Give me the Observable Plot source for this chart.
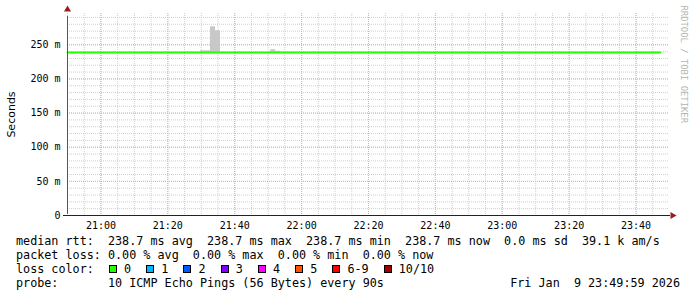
<!DOCTYPE html>
<html>
<head>
<meta charset="utf-8">
<script src="https://cdn.jsdelivr.net/npm/d3@7"></script>
<script src="https://cdn.jsdelivr.net/npm/@observablehq/plot@0.6"></script>
<style>
  html, body { margin: 0; padding: 0; background: #fff; }
  svg { display: block; }
  #legend { font-family: "DejaVu Sans Mono", monospace; font-size: 11.75px; line-height: 14px; margin: 2px 0 0 16px; width: 664px; white-space: pre; color: #000; }
  #legend .row { height: 14px; }
  .box { display: inline-block; width: 6px; height: 6px; border: 1px solid #000; margin: 0 7px 0 1px; vertical-align: -0px; }
  .flex { display: flex; justify-content: space-between; }
</style>
</head>
<body>
<div id="chart"></div>
<div id="legend"></div>
<script>
// ---- data ----
const day = [2026, 0, 9];
const xStart = "20:50:00";
const xEnd = "23:50:00";
const xTickLabels = ["21:00", "21:20", "21:40", "22:00", "22:20", "22:40", "23:00", "23:20", "23:40"];
const yTicks = [0, 50, 100, 150, 200, 250];
const yMax = 295.8;

const medianTimes = ["20:50:00", "23:47:15"];
const medianValues = [238.7, 238.7];

const smokeStart = ["21:29:45", "21:32:45", "21:34:15", "21:50:45", "21:52:15"];
const smokeEnd   = ["21:32:45", "21:34:15", "21:35:45", "21:52:15", "21:53:45"];
const smokeLow   = [238.0, 238.0, 238.0, 238.0, 238.0];
const smokeHigh  = [241.2, 276.3, 270.5, 242.7, 240.5];

const lossLabels = ["0", "1", "2", "3", "4", "5", "6-9", "10/10"];
const lossColors = ["#26ff00", "#00b8ff", "#0059ff", "#7e00ff", "#ff00ff", "#ff5500", "#ff0000", "#a10000"];

const rttStats = ["238.7 ms avg", "238.7 ms max", "238.7 ms min", "238.7 ms now", "0.0 ms sd", "39.1 k am/s"];
const lossStats = ["0.00 % avg", "0.00 % max", "0.00 % min", "0.00 % now"];
const probeText = "10 ICMP Echo Pings (56 Bytes) every 90s";
const dateText = "Fri Jan  9 23:49:59 2026";
const yLabel = "Seconds";
const sideText = "RRDTOOL / TOBI OETIKER";

// ---- helpers ----
const t = s => { const [h, m, sec = 0] = s.split(":").map(Number); return new Date(Date.UTC(day[0], day[1], day[2], h, m, sec)); };
const x0 = t(xStart), x1 = t(xEnd);
const majorX = xTickLabels.map(t);
const minorX = d3.utcMinute.every(5).range(x0, x1);
const minorY = d3.range(10, yMax, 10);

const median = medianTimes.map((s, i) => ({x: t(s), y: medianValues[i]}));
const smoke = smokeStart.map((s, i) => ({x1: t(s), x2: t(smokeEnd[i]), y1: smokeLow[i], y2: smokeHigh[i]}));

const arrowColor = "#9b1c1c";
const minorGrid = {stroke: "#cfcfcf", strokeOpacity: 1, strokeDasharray: "1,1"};
const majorGrid = {stroke: "#eaaaaa", strokeOpacity: 1, strokeDasharray: "1,1"};

const chart = Plot.plot({
  width: 697,
  height: 232,
  marginLeft: 67,
  marginRight: 28,
  marginTop: 13,
  marginBottom: 17,
  x: {type: "utc", domain: [x0, x1]},
  y: {domain: [0, yMax]},
  style: {fontFamily: "DejaVu Sans Mono", fontSize: "10px", background: "#fff", color: "#000", overflow: "visible"},
  marks: [
    Plot.gridY(minorY, minorGrid),
    Plot.gridX(minorX, minorGrid),
    Plot.gridY(yTicks.filter(d => d > 0), majorGrid),
    Plot.gridX(majorX, majorGrid),
    Plot.rect(smoke, {x1: "x1", x2: "x2", y1: "y1", y2: "y2", fill: "#c8c8c8"}),
    Plot.line(median, {x: "x", y: "y", stroke: lossColors[0], strokeWidth: 2}),
    Plot.axisX({ticks: majorX, tickFormat: d3.utcFormat("%H:%M"), tickSize: 0, tickPadding: 6, label: null}),
    Plot.axisY({ticks: yTicks, tickFormat: d => d === 0 ? "0" : d + " m", tickSize: 0, tickPadding: 7,
      label: yLabel, labelAnchor: "center", labelArrow: "none", labelOffset: 60}),
    Plot.ruleX([x0], {y1: 0, y2: yMax, stroke: "#555", insetTop: -1, insetBottom: -3}),
    Plot.ruleY([0], {x1: x0, x2: x1, stroke: "#222", insetLeft: -4, insetRight: -1}),
    Plot.dot([0], {x: () => x0, y: () => yMax, symbol: "triangle", r: 2.6, fill: arrowColor, stroke: "none", dy: -4}),
    Plot.dot([0], {x: () => x1, y: () => 0, symbol: "triangle", r: 2.6, fill: arrowColor, stroke: "none", rotate: 90, dx: 3}),
    Plot.text([sideText], {frameAnchor: "top-right", rotate: 90, textAnchor: "start", dx: 18, dy: -8, fill: "#b4b4b4", fontSize: 8.9, fontFamily: "DejaVu Sans Mono"})
  ]
});
// y label font
d3.select(chart).selectAll("text").filter(function() { return this.textContent === yLabel; })
  .style("font-family", "DejaVu Sans").style("font-size", "11px");
document.getElementById("chart").appendChild(chart);

// ---- legend ----
const lg = d3.select("#legend");
lg.append("div").attr("class", "row").text("median rtt:  " + rttStats.join("  "));
lg.append("div").attr("class", "row").text("packet loss: " + lossStats.join("  "));
const lc = lg.append("div").attr("class", "row");
lc.append("span").text("loss color:  ");
lossLabels.forEach((l, i) => {
  lc.append("span").attr("class", "box").style("background", lossColors[i]);
  lc.append("span").text(l + (i < lossLabels.length - 1 ? "  " : ""));
});
const pr = lg.append("div").attr("class", "row flex");
pr.append("span").text("probe:       " + probeText);
pr.append("span").text(dateText);
</script>
</body>
</html>
